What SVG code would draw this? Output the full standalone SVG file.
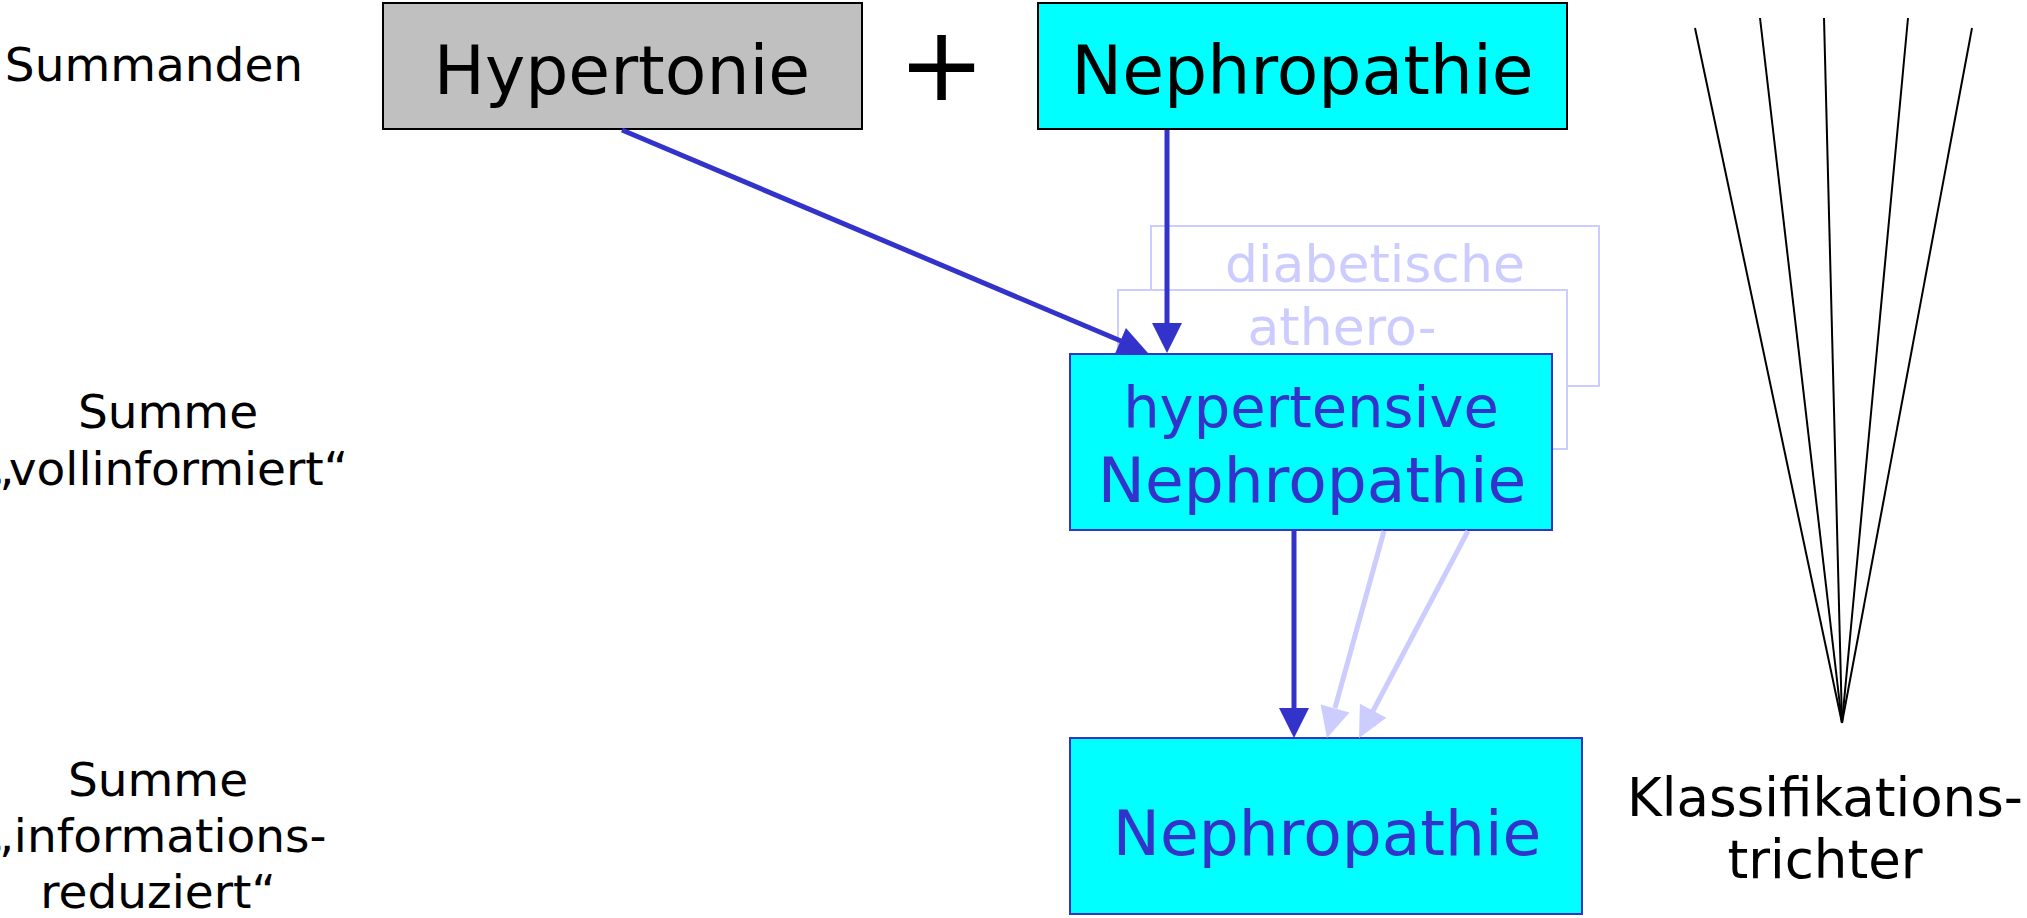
<svg xmlns="http://www.w3.org/2000/svg" width="2027" height="918" viewBox="0 0 2027 918">
  <style>
    text { font-family: "DejaVu Sans", Verdana, "Liberation Sans", sans-serif; }
    .lbl { font-size: 47px; fill: #000; text-anchor: middle; }
    .top { stroke: #000; stroke-width: 2; }
    .main { fill: #00FFFF; stroke: #3333CC; stroke-width: 2; }
    .ghost { fill: #FFFFFF; stroke: #CCCCFF; stroke-width: 2; }
    .ghosttxt { font-size: 52px; fill: #CCCCFF; text-anchor: middle; }
    .bluetxt { fill: #3333CC; text-anchor: middle; }
    .edge { stroke: #3333CC; stroke-width: 5; fill: none; }
    .edge-faint { stroke: #CCCCFF; stroke-width: 5; fill: none; }
    .fan line { stroke: #000; stroke-width: 2; }
  </style>

  <!-- row labels -->
  <g id="labels">
    <text class="lbl" x="154" y="81">Summanden</text>
    <text class="lbl" x="168" y="428">Summe</text>
    <text class="lbl" x="348" y="485" text-anchor="end" style="text-anchor:end">„vollinformiert“</text>
    <text class="lbl" x="158" y="796">Summe</text>
    <text class="lbl" x="158" y="852">„informations-</text>
    <text class="lbl" x="158" y="908">reduziert“</text>
  </g>

  <!-- alternative sums, drawn behind -->
  <g id="ghost-diabetisch">
    <rect class="ghost" x="1151" y="226" width="448" height="160"/>
    <text class="ghosttxt" x="1375" y="282">diabetische</text>
  </g>
  <g id="ghost-athero">
    <rect class="ghost" x="1118" y="290" width="449" height="159"/>
    <text class="ghosttxt" x="1342" y="345">athero-</text>
  </g>

  <g id="hypertonie">
    <rect class="top" x="383" y="3" width="479" height="126" fill="#C0C0C0"/>
    <text x="622" y="94" font-size="68" text-anchor="middle" fill="#000">Hypertonie</text>
  </g>

  <g id="plus">
    <text x="941.5" y="100" font-size="104" text-anchor="middle" fill="#000">+</text>
  </g>

  <g id="nephropathie-top">
    <rect class="top" x="1038" y="3" width="529" height="126" fill="#00FFFF"/>
    <text x="1302.5" y="94" font-size="68" text-anchor="middle" fill="#000">Nephropathie</text>
  </g>

  <g id="hypertensive">
    <rect class="main" x="1070" y="354" width="482" height="176"/>
    <text class="bluetxt" x="1311" y="427" font-size="57.5">hypertensive</text>
    <text class="bluetxt" x="1312" y="502" font-size="63">Nephropathie</text>
  </g>

  <g id="nephropathie-bottom">
    <rect class="main" x="1070" y="738" width="512" height="176"/>
    <text class="bluetxt" x="1327" y="855" font-size="63">Nephropathie</text>
  </g>

  <!-- classification funnel -->
  <g id="trichter" class="fan">
    <line x1="1695" y1="28" x2="1842" y2="723"/>
    <line x1="1760" y1="18" x2="1842" y2="723"/>
    <line x1="1824" y1="18" x2="1842" y2="723"/>
    <line x1="1908" y1="18" x2="1842" y2="723"/>
    <line x1="1972" y1="28" x2="1842" y2="723"/>
    <text class="lbl" x="1825" y="816" font-size="53" style="font-size:53px">Klassifikations-</text>
    <text class="lbl" x="1825" y="878" font-size="53" style="font-size:53px">trichter</text>
  </g>

  <g id="connectors">
    <!-- Hypertonie -> hypertensive Nephropathie -->
    <line class="edge" x1="622" y1="130" x2="1121" y2="341"/>
    <polygon fill="#3333CC" points="1148,353 1114.9,353.9 1125.9,328"/>
    <!-- Nephropathie -> hypertensive Nephropathie -->
    <line class="edge" x1="1167" y1="130" x2="1167" y2="325"/>
    <polygon fill="#3333CC" points="1152,323 1182,323 1167,353"/>
    <!-- hypertensive Nephropathie -> Nephropathie -->
    <line class="edge" x1="1294" y1="531" x2="1294" y2="710"/>
    <polygon fill="#3333CC" points="1279,708 1309,708 1294,738"/>
    <!-- faint edges from the alternative sums -->
    <line class="edge-faint" x1="1384" y1="531" x2="1335" y2="708"/>
    <polygon fill="#CCCCFF" points="1327,738 1320.6,704.5 1349.5,712.5"/>
    <line class="edge-faint" x1="1468" y1="531" x2="1373" y2="711"/>
    <polygon fill="#CCCCFF" points="1359,738 1359.9,703.7 1386.4,717.7"/>
  </g>
</svg>
